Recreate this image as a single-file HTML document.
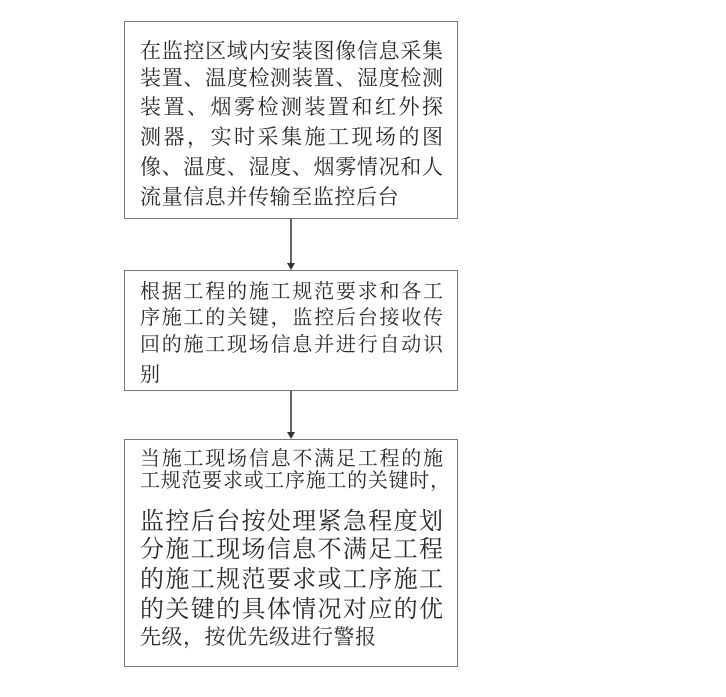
<!DOCTYPE html>
<html><head><meta charset="utf-8"><style>
html,body{margin:0;padding:0;background:#fff;}
body{width:726px;height:697px;position:relative;overflow:hidden;
font-family:"Liberation Serif","Noto Serif CJK SC",serif;color:#2a2a2a;}
.box{position:absolute;border:1.5px solid #777;box-sizing:border-box;}
.l{position:absolute;left:140px;width:303px;white-space:nowrap;height:30px;line-height:30px;}
.j{text-align:justify;text-align-last:justify;}
.v{position:absolute;left:290px;width:1.5px;background:#666;}
.a{position:absolute;left:287px;width:0;height:0;border-left:4px solid transparent;border-right:4px solid transparent;border-top:7px solid #333;}
</style></head><body>
<div class="box" style="left:124px;top:21px;width:334px;height:198px;"></div>
<div class="box" style="left:124px;top:270px;width:334px;height:121px;"></div>
<div class="box" style="left:124px;top:439px;width:334px;height:228px;"></div>
<div class="v" style="top:219px;height:44px;"></div><div class="a" style="top:263px;"></div>
<div class="v" style="top:391px;height:41px;"></div><div class="a" style="top:432px;"></div>

<div class="l j" style="top:36px;font-size:21px;">在监控区域内安装图像信息采集</div>
<div class="l j" style="top:63px;font-size:21px;">装置、温度检测装置、湿度检测</div>
<div class="l j" style="top:92px;font-size:21px;">装置、烟雾检测装置和红外探</div>
<div class="l j" style="top:122px;font-size:21px;">测器，实时采集施工现场的图</div>
<div class="l j" style="top:152px;font-size:21px;">像、温度、湿度、烟雾情况和人</div>
<div class="l" style="top:182px;font-size:21px;letter-spacing:0.6px;">流量信息并传输至监控后台</div>

<div class="l j" style="top:277px;font-size:20px;">根据工程的施工规范要求和各工</div>
<div class="l j" style="top:303px;font-size:20px;">序施工的关键，监控后台接收传</div>
<div class="l j" style="top:330px;font-size:20px;">回的施工现场信息并进行自动识</div>
<div class="l" style="top:360px;font-size:20px;">别</div>

<div class="l j" style="top:444px;font-size:20px;">当施工现场信息不满足工程的施</div>
<div class="l j" style="top:466px;font-size:20px;width:310px;">工规范要求或工序施工的关键时，</div>
<div class="l j" style="top:507px;font-size:24px;">监控后台按处理紧急程度划</div>
<div class="l j" style="top:535px;font-size:24px;">分施工现场信息不满足工程</div>
<div class="l j" style="top:565px;font-size:24px;">的施工规范要求或工序施工</div>
<div class="l j" style="top:595px;font-size:24px;">的关键的具体情况对应的优</div>
<div class="l" style="top:622px;font-size:21px;letter-spacing:0.5px;">先级，按优先级进行警报</div>
</body></html>
